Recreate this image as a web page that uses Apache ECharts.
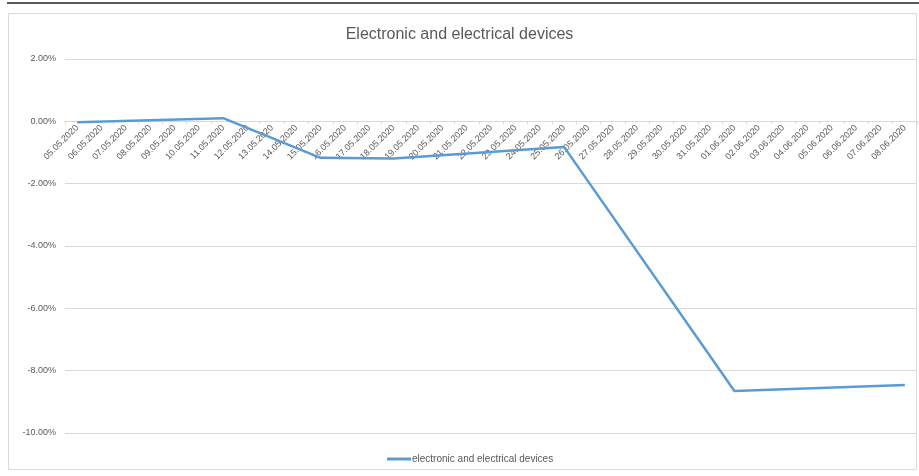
<!DOCTYPE html>
<html>
<head>
<meta charset="utf-8">
<script src="https://cdn.jsdelivr.net/npm/echarts@6/dist/echarts.min.js"></script>
<style>
html,body{margin:0;padding:0;background:#fff;}
#c{width:919px;height:476px;}
</style>
</head>
<body>
<div id="c"></div>
<script>
var categories = [
  '05.05.2020','06.05.2020','07.05.2020','08.05.2020','09.05.2020','10.05.2020','11.05.2020',
  '12.05.2020','13.05.2020','14.05.2020','15.05.2020','16.05.2020','17.05.2020','18.05.2020',
  '19.05.2020','20.05.2020','21.05.2020','22.05.2020','23.05.2020','24.05.2020','25.05.2020',
  '26.05.2020','27.05.2020','28.05.2020','29.05.2020','30.05.2020','31.05.2020','01.06.2020',
  '02.06.2020','03.06.2020','04.06.2020','05.06.2020','06.06.2020','07.06.2020','08.06.2020'
];
// percent values; null = no observation (line connects across)
var seriesValues = [
  -0.03, null, null, null, null, null, 0.10,
  null, null, null, -1.17, null, null, -1.19,
  null, null, null, null, null, null, -0.82,
  null, null, null, null, null, null, -8.65,
  null, null, null, null, null, null, -8.46
];
var yTicks = [-10, -8, -6, -4, -2, 0, 2];
var seriesName = 'electronic and electrical devices';
var titleText = 'Electronic and electrical devices';

var gridTop = 59, gridBottom = 43, chartH = 476;
var plotH = chartH - gridTop - gridBottom;
var yMin = yTicks[0], yMax = yTicks[yTicks.length - 1];
// distance from bottom of plot to the zero line
var zeroFromBottom = plotH * (0 - yMin) / (yMax - yMin);

var chart = echarts.init(document.getElementById('c'), null, {renderer:'canvas'});
var font = 'Liberation Sans';
chart.setOption({
  animation: false,
  backgroundColor: '#fff',
  textStyle: {fontFamily: font},
  title: {
    text: titleText,
    left: 'center',
    top: 22,
    textStyle: {fontFamily: font, fontSize: 16, fontWeight: 'normal', color: '#595959'}
  },
  legend: {
    bottom: 7,
    left: 382,
    itemWidth: 24,
    itemHeight: 3,
    icon: 'rect',
    itemGap: 4,
    textStyle: {fontFamily: font, fontSize: 10, color: '#595959', padding: [0,0,0,-4]},
    data: [seriesName]
  },
  grid: {left: 65, right: 2, top: gridTop, bottom: gridBottom, containLabel: false},
  xAxis: {
    type: 'category',
    data: categories,
    boundaryGap: true,
    position: 'bottom',
    offset: -zeroFromBottom,
    axisLine: {onZero: false, lineStyle: {color: '#d9d9d9', width: 1}},
    axisTick: {show: true, length: 3, lineStyle: {color: '#d9d9d9'}},
    axisLabel: {interval: 0, rotate: 45, fontSize: 9, color: '#595959', fontFamily: font, margin: 5},
    splitLine: {show: false}
  },
  yAxis: {
    type: 'value',
    min: yMin,
    max: yMax,
    interval: 2,
    axisLine: {show: false},
    axisTick: {show: false},
    axisLabel: {fontSize: 9, color: '#595959', fontFamily: font, margin: 9,
      formatter: function(v){ return v.toFixed(2) + '%'; }},
    splitLine: {lineStyle: {color: '#d9d9d9', width: 1}}
  },
  graphic: [
    {type: 'rect', shape: {x: 8.5, y: 13.5, width: 908, height: 456}, style: {fill: 'none', stroke: '#d9d9d9', lineWidth: 1}, z: -1},
    {type: 'line', shape: {x1: 7, y1: 3, x2: 919, y2: 3}, style: {stroke: '#222', lineWidth: 1.5}}
  ],
  series: [{
    name: seriesName,
    type: 'line',
    data: seriesValues,
    connectNulls: true,
    showSymbol: false,
    symbol: 'none',
    lineStyle: {color: '#5b9bd5', width: 2.5},
    itemStyle: {color: '#5b9bd5'}
  }]
});
</script>
</body>
</html>
